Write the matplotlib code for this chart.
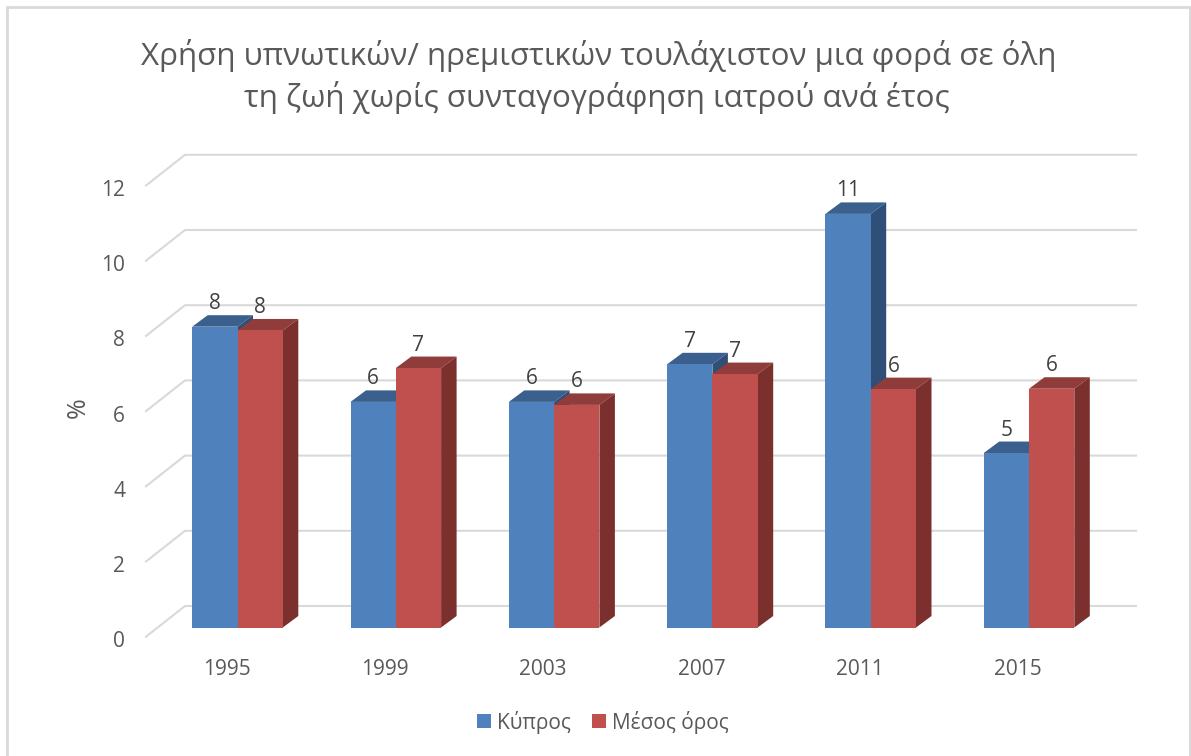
import matplotlib
matplotlib.use("Agg")
from matplotlib import pyplot as plt
from matplotlib.patches import Rectangle

years = ["1995", "1999", "2003", "2007", "2011", "2015"]
cyprus = [8, 6, 6, 7, 11, 4.64]
average = [7.9, 6.9, 5.92, 6.74, 6.34, 6.35]
cyprus_labels = ["8", "6", "6", "7", "11", "5"]
average_labels = ["8", "7", "6", "7", "6", "6"]
y_ticks = [0, 2, 4, 6, 8, 10, 12]
series_names = ["Κύπρος", "Μέσος όρος"]

W, H = 1191, 756
GREY = "#595959"
GRID = "#D9D9D9"

plt.rcParams["font.family"] = ["Open Sans", "DejaVu Sans"]

fig = plt.figure(figsize=(W / 100, H / 100), dpi=100)

# pixel geometry of the plot
left, right = 146, 1136
y0, unit = 627.5, 37.6
x0, step = 237.5, 158.3
ymin = -0.5
xlim = ((left - x0) / step, (right - x0) / step)

ax = fig.add_axes([left / W, 1 - (y0 - ymin * unit) / H, (right - left) / W, (12 - ymin) * unit / H])
ax.patch.set_alpha(0)
for s in ax.spines.values():
    s.set_visible(False)

bar_w = 45.3 / step
dx = 15.5 / step
dy = 11.5 / unit

# floor and wall lines
wall_x = (185 - x0) / step
front_y = -9.2 / unit
back_y = 21.5 / unit
for v in y_ticks:
    ax.plot([xlim[0], wall_x, xlim[1]],
            [v + front_y, v + back_y, v + back_y],
            color=GRID, lw=1.5, clip_on=False, zorder=1)


def draw_bars(xs, vals, labels, front, top, side, name, z):
    bars = ax.bar(xs, vals, bar_w, color=front, label=name, zorder=z + 1, clip_on=False)
    for x, v, t in zip(xs, vals, labels):
        a = x - bar_w / 2
        b = x + bar_w / 2
        ax.fill([a, b, b + dx, a + dx], [v, v, v + dy, v + dy], color=top, lw=0, zorder=z, clip_on=False)
        ax.fill([b, b + dx, b + dx, b], [0, dy, v + dy, v], color=side, lw=0, zorder=z, clip_on=False)
        ax.annotate(t, (x, v), xytext=(0, 23), textcoords="offset pixels",
                    ha="center", va="center", fontsize=15, color="#404040", zorder=10)
    return bars


pos = list(range(len(years)))
draw_bars([p - bar_w / 2 for p in pos], cyprus, cyprus_labels,
          "#4F81BD", "#3B608E", "#2F4F78", series_names[0], 2)
draw_bars([p + bar_w / 2 for p in pos], average, average_labels,
          "#C0504D", "#903C3A", "#7B302E", series_names[1], 4)

ax.set_xticks([p - 11 / step for p in pos], years)
ax.set_yticks([v + front_y - 2.5 / unit for v in y_ticks], [str(v) for v in y_ticks])
ax.tick_params(axis="both", length=0, labelsize=15, labelcolor=GREY)
ax.tick_params(axis="x", pad=8.8)
ax.tick_params(axis="y", pad=15)
# set the limits last, set_xticks and set_yticks widen them
ax.set_xlim(xlim)
ax.set_ylim(ymin, 12)

fig.text(78 / W, 1 - 408 / H, "%", rotation=90, ha="center", va="center", fontsize=18, color=GREY)

fig.text(599 / W, 1 - 55 / H, "Χρήση υπνωτικών/ ηρεμιστικών τουλάχιστον μια φορά σε όλη",
         ha="center", va="center", fontsize=22.6, color=GREY)
fig.text(597 / W, 1 - 98 / H, "τη ζωή χωρίς συνταγογράφηση ιατρού ανά έτος",
         ha="center", va="center", fontsize=22.6, color=GREY)

fig.legend(loc="center", bbox_to_anchor=(603 / W, 1 - 722 / H), ncol=2, frameon=False,
           fontsize=15, labelcolor=GREY, handlelength=0.65, handleheight=0.65,
           handletextpad=0.3, columnspacing=1.0)

fig.add_artist(Rectangle((7 / W, 1 - 800 / H), 1183 / W, 793 / H, transform=fig.transFigure,
                         fill=False, edgecolor=GRID, lw=2))

fig.savefig("out.png", dpi=100)
